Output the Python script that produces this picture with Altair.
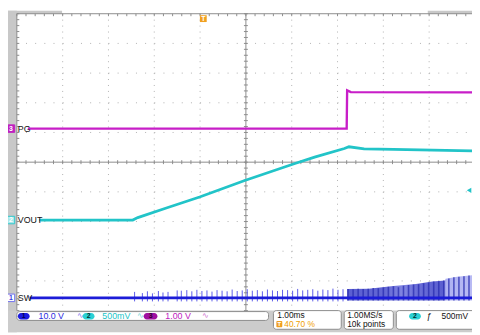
import altair as alt
import pandas as pd

# ---------------- drawing geometry (pixels) ----------------
W, H = 472, 327            # whole drawing; plot area == drawing
GX, GY = 9, 3              # graticule top-left corner
DX, DY = 46.6, 30.2        # pixels per division
FONT = "Liberation Sans"

# ---------------- acquisition settings ----------------
TRIG_POS_DIV = 4.07        # trigger at 40.70 % of the record (1.00 ms/div)
PG_VDIV, PG_POS = 1.00, 6.13       # ch3, V/div, ground marker (div)
VOUT_VDIV, VOUT_POS = 0.50, 3.05   # ch2
SW_VDIV, SW_POS = 10.0, 0.43       # ch1
TRIG_LEVEL_V = 0.50                # ch2 rising edge, 500 mV

# ---------------- traces (time ms from trigger, volts) ----------------
PG_T = [-3.83, 3.13, 3.14, 3.22, 5.87]
PG_V = [0.00, 0.00, 1.29, 1.23, 1.22]

VOUT_T = [-3.58, -1.54, -1.43, -0.79, -0.08, 0.89, 2.00, 2.43, 3.08, 3.18, 3.51, 4.15, 5.87]
VOUT_V = [0.000, 0.000, 0.041, 0.207, 0.389, 0.662, 0.952, 1.060, 1.204, 1.234, 1.200, 1.192, 1.167]

SW_T = [-3.79, 5.87]
SW_V = [0.0, 0.0]
SW_SPIKE_T = [-1.50, -1.33, -1.22, -1.11, -0.98, -0.88, -0.77, -0.57, -0.48, -0.36,
              -0.25, -0.14, -0.03, 0.08, 0.19, 0.30, 0.41, 0.52, 0.63, 0.74,
              0.85, 0.96, 1.07, 1.18, 1.29, 1.40, 1.51, 1.62, 1.73, 1.84,
              1.95, 2.06, 2.17, 2.28, 2.39, 2.50, 2.61, 2.72, 2.83, 2.94, 3.05]
SW_SPIKE_HI = [2.0, 1.6, 2.2, 1.5, 2.3, 1.8, 2.0, 2.5, 2.4, 2.6,
               2.2, 2.7, 2.3, 2.5, 2.1, 2.6, 2.4, 2.2, 2.8, 2.3,
               2.5, 2.9, 2.4, 2.6, 2.2, 2.8, 2.5, 2.3, 2.7, 2.6,
               2.4, 3.0, 2.5, 2.7, 2.9, 2.4, 2.8, 2.6, 3.1, 2.7, 2.9]
SW_SPIKE_LO = -1.2
SW_ENV_T = [3.14, 3.61, 4.15, 4.64, 5.00, 5.28, 5.29, 5.54, 5.87]
SW_ENV_HI = [2.98, 3.10, 3.98, 4.64, 5.50, 5.80, 6.40, 7.10, 7.60]
SW_ENV_LO = -0.9
SW_BURST_T = [3.16, 3.27, 3.38, 3.49, 3.60, 3.71, 3.82, 3.93, 4.04, 4.15, 4.26, 4.37, 4.48,
              4.59, 4.70, 4.81, 4.92, 5.03, 5.14, 5.25, 5.36, 5.47, 5.58, 5.69, 5.80]
SW_BURST_HI = [3.0, 2.9, 3.1, 3.0, 3.1, 3.3, 3.2, 3.5, 3.7, 3.9, 3.6, 4.1, 4.3,
               4.5, 4.6, 4.9, 5.2, 5.5, 5.6, 5.8, 6.5, 6.9, 7.1, 7.3, 7.5]

# ---------------- scales ----------------
X0 = -TRIG_POS_DIV - GX / DX
X1 = X0 + W / DX
Y1 = 10 + GY / DY
Y0 = Y1 - H / DY
xs = alt.Scale(domain=[X0, X1], nice=False, zero=False)
ys = alt.Scale(domain=[Y0, Y1], nice=False, zero=False)


def X(f):
    return alt.X(f, type="quantitative", scale=xs, axis=None)


def Y(f):
    return alt.Y(f, type="quantitative", scale=ys, axis=None)


one = pd.DataFrame({"k": [0]})


def rect(x, x2, y, y2, fill, stroke=None, r=0):
    kw = dict(fill=fill, cornerRadius=r)
    if stroke:
        kw.update(stroke=stroke, strokeWidth=1)
    return alt.Chart(one).mark_rect(**kw).encode(
        x=alt.value(x), x2=alt.value(x2), y=alt.value(y), y2=alt.value(y2))


def txt(x, y, s, color="#000000", size=9, align="left", weight="normal"):
    return alt.Chart(one).mark_text(
        text=s, color=color, fontSize=size, align=align, baseline="middle",
        fontWeight=weight, font=FONT).encode(x=alt.value(x), y=alt.value(y))


layers = []
GB = GY + 10 * DY  # graticule bottom

# ---- backgrounds ----
layers.append(rect(0, GX, 0, H, "#c8c8c8"))
layers.append(rect(0, 55, 0, GY, "#c8c8c8"))
layers.append(rect(427, W, 0, GY, "#c8c8c8"))
layers.append(rect(0, W, GB, H, "#cccccc"))

# ---- graticule ----
grid_t = pd.DataFrame({"t": [k - TRIG_POS_DIV for k in range(1, 10) if k != 5]})
grid_d = pd.DataFrame({"d": [k for k in range(1, 10) if k != 5]})
layers.append(alt.Chart(grid_t).mark_rule(color="#b0b0b0", strokeDash=[1, DY / 5 - 1]).encode(
    x=X("t"), y=alt.value(GY), y2=alt.value(GB)))
layers.append(alt.Chart(grid_d).mark_rule(color="#b0b0b0", strokeDash=[1, DX / 5 - 1]).encode(
    y=Y("d"), x=alt.value(GX), x2=alt.value(W)))

center = pd.DataFrame({"t": [5 - TRIG_POS_DIV], "d": [5]})
layers.append(alt.Chart(center).mark_rule(color="#8c8c8c").encode(
    x=X("t"), y=alt.value(GY), y2=alt.value(GB)))
layers.append(alt.Chart(center).mark_rule(color="#8c8c8c").encode(
    y=Y("d"), x=alt.value(GX), x2=alt.value(W)))

ticks_t = pd.DataFrame({"t": [k * 0.2 - TRIG_POS_DIV for k in range(0, 50)]})
ticks_d = pd.DataFrame({"d": [k * 0.2 for k in range(0, 51)]})
yc = GY + 5 * DY
xc = GX + 5 * DX
layers.append(alt.Chart(ticks_t).mark_rule(color="#8c8c8c").encode(
    x=X("t"), y=alt.value(yc - 2), y2=alt.value(yc + 2)))
layers.append(alt.Chart(ticks_d).mark_rule(color="#8c8c8c").encode(
    y=Y("d"), x=alt.value(xc - 2), x2=alt.value(xc + 2)))
layers.append(alt.Chart(ticks_t).mark_rule(color="#8c8c8c").encode(
    x=X("t"), y=alt.value(GY), y2=alt.value(GY + 2.5)))
layers.append(alt.Chart(ticks_d).mark_rule(color="#8c8c8c").encode(
    y=Y("d"), x=alt.value(GX), x2=alt.value(GX + 2.5)))
# borders
layers.append(alt.Chart(one).mark_rule(color="#8c8c8c").encode(
    x=alt.value(GX), x2=alt.value(W), y=alt.value(GY)))
layers.append(alt.Chart(one).mark_rule(color="#8c8c8c").encode(
    x=alt.value(GX), y=alt.value(GY), y2=alt.value(GB)))

# ---- SW (ch1) ----
spk = pd.DataFrame({"t": SW_SPIKE_T, "hi": SW_SPIKE_HI})
spk["dh"] = SW_POS + spk["hi"] / SW_VDIV
spk["dl"] = SW_POS + SW_SPIKE_LO / SW_VDIV
layers.append(alt.Chart(spk).mark_rule(color="#4a4ae6", strokeWidth=1, opacity=0.9).encode(
    x=X("t"), y=Y("dl"), y2="dh"))

env = pd.DataFrame({"t": SW_ENV_T, "hi": SW_ENV_HI})
env["dh"] = SW_POS + env["hi"] / SW_VDIV
env["dl"] = SW_POS + SW_ENV_LO / SW_VDIV
grad = alt.Gradient(
    gradient="linear",
    stops=[alt.GradientStop(offset=0.0, color="#5a5ed2"),
           alt.GradientStop(offset=0.3, color="#6266d4"),
           alt.GradientStop(offset=0.45, color="#8286e2"),
           alt.GradientStop(offset=0.55, color="#6a6ed8"),
           alt.GradientStop(offset=0.77, color="#5a5ed0"),
           alt.GradientStop(offset=0.79, color="#aeb1f2"),
           alt.GradientStop(offset=1.0, color="#b8baf4")],
    x1=0, x2=1, y1=0, y2=0)
layers.append(alt.Chart(env).mark_area(color=grad, clip=True).encode(
    x=X("t"), y=Y("dh"), y2="dl"))

bur = pd.DataFrame({"t": SW_BURST_T, "hi": SW_BURST_HI})
bur["dh"] = SW_POS + bur["hi"] / SW_VDIV
bur["dl"] = SW_POS + SW_ENV_LO / SW_VDIV
layers.append(alt.Chart(bur).mark_rule(color="#2a2eb0", strokeWidth=1.6, opacity=0.75, clip=True).encode(
    x=X("t"), y=Y("dl"), y2="dh"))

sw = pd.DataFrame({"t": SW_T, "v": SW_V})
sw["d"] = SW_POS + sw["v"] / SW_VDIV
layers.append(alt.Chart(sw).mark_line(color="#1c1cd8", strokeWidth=2.8, clip=True).encode(
    x=X("t"), y=Y("d")))

# ---- VOUT (ch2) ----
vo = pd.DataFrame({"t": VOUT_T, "v": VOUT_V})
vo["d"] = VOUT_POS + vo["v"] / VOUT_VDIV
layers.append(alt.Chart(vo).mark_line(color="#22c4c8", strokeWidth=2.8, clip=True).encode(
    x=X("t"), y=Y("d")))

# ---- PG (ch3) ----
pg = pd.DataFrame({"t": PG_T, "v": PG_V})
pg["d"] = PG_POS + pg["v"] / PG_VDIV
layers.append(alt.Chart(pg).mark_line(color="#c81ec8", strokeWidth=2.4, clip=True).encode(
    x=X("t"), y=Y("d")))

# ---- channel ground markers and labels ----
MARKERS = [("3", "PG", PG_POS, "#c020c0", "#c020c0", "#ffffff"),
           ("2", "VOUT", VOUT_POS, "#a8e8ea", "#30c8cc", "#ffffff"),
           ("1", "SW", SW_POS, "#ffffff", "#7070f0", "#3a3ae0")]
for num, name, pos, fill, stroke, tc in MARKERS:
    m = pd.DataFrame({"d": [pos]})
    layers.append(alt.Chart(m).mark_point(shape="square", filled=True, size=58, fill=fill,
                                          stroke=stroke, strokeWidth=1, opacity=1).encode(
        x=alt.value(3), y=Y("d")))
    layers.append(alt.Chart(m).mark_text(text=num, color=tc, fontSize=7, fontWeight="bold",
                                         font=FONT, baseline="middle").encode(
        x=alt.value(3), y=Y("d")))
    layers.append(alt.Chart(m).mark_text(text=name, color="#111111", fontSize=9, font=FONT,
                                         align="left", baseline="middle").encode(
        x=alt.value(10), y=Y("d")))

# trigger level marker (right edge)
tl = pd.DataFrame({"d": [VOUT_POS + TRIG_LEVEL_V / VOUT_VDIV]})
layers.append(alt.Chart(tl).mark_point(shape="triangle-left", filled=True, size=28,
                                       color="#22c4c8", opacity=1).encode(
    x=alt.value(W - 3), y=Y("d")))

# trigger position marker
tp = pd.DataFrame({"t": [0.0]})
layers.append(alt.Chart(tp).mark_point(shape="square", filled=True, size=48,
                                       color="#f0a020", opacity=1).encode(
    x=X("t"), y=alt.value(8)))
layers.append(alt.Chart(tp).mark_text(text="T", color="#ffffff", fontSize=7, fontWeight="bold",
                                      font=FONT, baseline="middle").encode(
    x=X("t"), y=alt.value(8.5)))

# ---- status bar ----
layers.append(rect(9, 265, 306, 315, "#ffffff", stroke="#8c8c8c", r=3))
layers.append(rect(270, 339, 305, 324, "#ffffff", stroke="#8c8c8c", r=3))
layers.append(rect(342, 392, 305, 324, "#ffffff", stroke="#8c8c8c", r=3))
layers.append(rect(395, 480, 305, 324, "#ffffff", stroke="#8c8c8c", r=3))

layers.append(rect(10, 22, 307.5, 314, "#1c1ce0", r=3.5))
layers.append(txt(16, 311, "1", "#000050", 7, "center", "bold"))
layers.append(txt(31, 310.5, "10.0 V", "#2a2ae0", 9))
layers.append(txt(70, 310.5, "∿", "#7a7af0", 8))
layers.append(rect(76, 88, 307.5, 314, "#2ad0d4", r=3.5))
layers.append(txt(82, 311, "2", "#003030", 7, "center", "bold"))
layers.append(txt(96, 310.5, "500mV", "#22c4c8", 9))
layers.append(txt(131, 310.5, "∿", "#70d8da", 8))
layers.append(rect(138, 152, 307.5, 314, "#a010a0", r=3.5))
layers.append(txt(145, 311, "3", "#300030", 7, "center", "bold"))
layers.append(txt(160, 310.5, "1.00 V", "#c020c0", 9))
layers.append(txt(197, 310.5, "∿", "#d070d0", 8))

layers.append(txt(274, 310, "1.00ms", "#111111", 8.5))
layers.append(rect(273, 279, 315.5, 322, "#f0a020", r=1))
layers.append(txt(276, 319, "T", "#ffffff", 6, "center", "bold"))
layers.append(txt(281, 319, "40.70 %", "#f0a000", 8.5))

layers.append(txt(345, 310, "1.00MS/s", "#111111", 8.5))
layers.append(txt(345, 319, "10k points", "#111111", 8.5))

layers.append(rect(408, 420, 307.5, 314, "#2ad0d4", r=3.5))
layers.append(txt(414, 311, "2", "#003030", 7, "center", "bold"))
layers.append(txt(426, 311, "ƒ", "#111111", 9))
layers.append(txt(441, 311, "500mV", "#111111", 8.5))

chart = alt.layer(*layers).properties(
    width=W, height=H, padding=0, autosize="none", background="#ffffff"
).configure_view(stroke=None)

chart.save("out.html", embed_options={"renderer": "svg", "actions": False})
